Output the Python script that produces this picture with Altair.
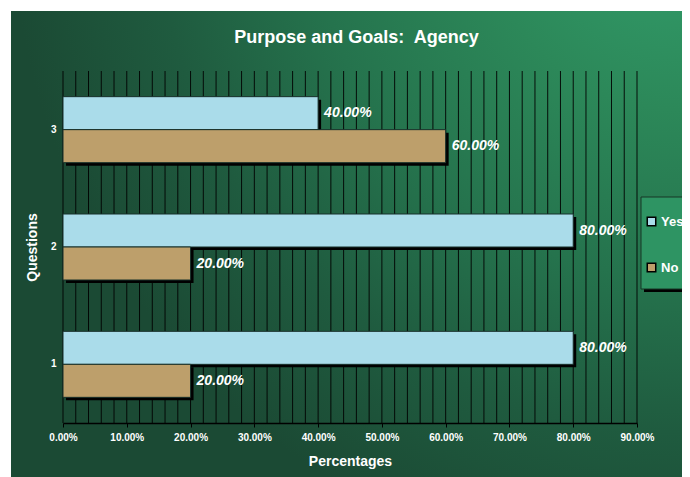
import altair as alt
import pandas as pd

# ---- data ----
QUESTIONS = ["3", "3", "2", "2", "1", "1"]
SERIES = ["Yes", "No", "Yes", "No", "Yes", "No"]
VALUES = [40, 60, 80, 20, 80, 20]          # percentages
Q_ORDER = ["3", "2", "1"]
S_ORDER = ["Yes", "No"]
S_COLORS = ["#aadcea", "#bd9f6b"]
X_TICKS = [0, 10, 20, 30, 40, 50, 60, 70, 80, 90]
GRID = list(range(0, 92, 2))               # minor gridlines every 2%
TITLE = "Purpose and Goals:\u00a0 Agency"

FONT = "Liberation Sans"
# whole green panel is the view; the plot area sits inside via scale ranges
VW, VH = 671, 466
PX0, PX1 = 52, 626      # plot area x-range inside the panel
PY0, PY1 = 60, 412      # plot area y-range inside the panel
PAD = {"left": 3, "top": 3, "right": 0, "bottom": 0}

df = pd.DataFrame({"Question": QUESTIONS, "Series": SERIES, "Value": VALUES})
df["Label"] = [f"{v:.2f}%" for v in VALUES]

x_scale = alt.Scale(domain=[0, 90], nice=False, zero=True, range=[PX0, PX1])
y_scale = alt.Scale(domain=Q_ORDER, range=[PY0, PY1], paddingInner=0.4375, paddingOuter=0.21875)
band = (PY1 - PY0) / 3 * (1 - 0.4375)

x_axis = alt.Axis(
    values=X_TICKS, labelExpr="format(datum.value, '.2f') + '%'",
    labelFont=FONT, labelFontSize=10, labelFontWeight="bold", labelColor="white",
    labelPadding=5, labelFlush=False, labelOverlap=False,
    tickColor="black", tickSize=4, tickWidth=1,
    domainColor="black", domainWidth=1.5, grid=False,
    offset=-(VH - PY1),
    title="Percentages",
    titleFont=FONT, titleFontSize=14, titleFontWeight="bold", titleColor="white",
    titleY=42, titleBaseline="alphabetic", zindex=1,
)
y_axis = alt.Axis(
    domain=False, ticks=False, grid=False,
    labelFont=FONT, labelFontSize=10, labelFontWeight="bold", labelColor="white",
    labelPadding=7, labelAngle=0,
    offset=-PX0,
    title="Questions",
    titleFont=FONT, titleFontSize=14, titleFontWeight="bold", titleColor="white",
    titleX=-31, titleY=(PY0 + PY1) / 2, titleAngle=270, titleAlign="center",
    titleBaseline="middle", zindex=1,
)

# radial green background, brightest at the top-right corner
BG_STOPS = [(0.0, "#33a06d"), (0.3, "#2c8859"), (0.55, "#25734d"), (0.78, "#1f5b3f"), (1.0, "#1b4a34")]
bg_expr = (
    "{gradient: 'radial', x1: 1, y1: 0, r1: 0, x2: 1, y2: 0, r2: 1, stops: ["
    + ", ".join(f"{{offset: {o}, color: '{c}'}}" for o, c in BG_STOPS)
    + "]}"
)

one = pd.DataFrame({"k": [0]})
legend_shadow = alt.Chart(one).mark_rect(fill="black").encode(
    x=alt.value(633), x2=alt.value(700), y=alt.value(189), y2=alt.value(281)
)
legend_box = alt.Chart(one).mark_rect(fill="#2e9463", stroke="#163626", strokeWidth=1).encode(
    x=alt.value(630), x2=alt.value(697), y=alt.value(186), y2=alt.value(278)
)

grid = alt.Chart(pd.DataFrame({"g": GRID})).mark_rule(color="black", strokeWidth=1, opacity=0.9).encode(
    x=alt.X("g:Q", scale=x_scale, axis=x_axis),
    y=alt.value(PY0), y2=alt.value(PY1),
)

shadow = alt.Chart(df).mark_bar(color="black", xOffset=3).encode(
    x=alt.X("Value:Q", scale=x_scale, axis=x_axis),
    y=alt.Y("Question:N", scale=y_scale, sort=Q_ORDER, axis=y_axis),
    yOffset=alt.YOffset("Series:N", sort=S_ORDER,
                        scale=alt.Scale(domain=S_ORDER, range=[3, band + 3])),
)

bars = alt.Chart(df).mark_bar(stroke="#17302a", strokeWidth=1).encode(
    x=alt.X("Value:Q", scale=x_scale, axis=x_axis),
    y=alt.Y("Question:N", scale=y_scale, sort=Q_ORDER, axis=y_axis),
    yOffset=alt.YOffset("Series:N", sort=S_ORDER, scale=alt.Scale(domain=S_ORDER, range=[0, band])),
    color=alt.Color(
        "Series:N", sort=S_ORDER,
        scale=alt.Scale(domain=S_ORDER, range=S_COLORS),
        legend=alt.Legend(
            title=None, orient="none", legendX=634, legendY=204, direction="vertical",
            labelFont=FONT, labelFontSize=13, labelFontWeight="bold", labelColor="white",
            symbolType="square", symbolSize=72, symbolStrokeColor="black",
            symbolStrokeWidth=1.5, rowPadding=31, labelOffset=3, padding=0,
        ),
    ),
)

labels = alt.Chart(df).mark_text(
    align="left", baseline="middle", dx=6, font=FONT, fontSize=14,
    fontStyle="italic", fontWeight="bold", color="white",
).encode(
    x=alt.X("Value:Q", scale=x_scale, axis=x_axis),
    y=alt.Y("Question:N", scale=y_scale, sort=Q_ORDER, axis=y_axis),
    yOffset=alt.YOffset("Series:N", sort=S_ORDER, scale=alt.Scale(domain=S_ORDER, range=[0, band])),
    text="Label:N",
)

chart = (
    alt.layer(legend_shadow, legend_box, grid, shadow, bars, labels)
    .resolve_scale(yOffset="independent")
    .properties(
        width=VW, height=VH,
        autosize=alt.AutoSizeParams(type="none"),
        padding=PAD,
        view=alt.ViewBackground(fill=alt.ExprRef(expr=bg_expr), stroke=None),
        title=alt.TitleParams(
            TITLE, font=FONT, fontSize=18, fontWeight="bold", color="white",
            anchor="middle", frame="group", dx=10, dy=18, baseline="alphabetic", offset=-31.7,
        ),
    )
    .configure_view(stroke=None)
    .configure(background="white")
)

chart.save("out.html", embed_options={"renderer": "svg", "actions": False})
